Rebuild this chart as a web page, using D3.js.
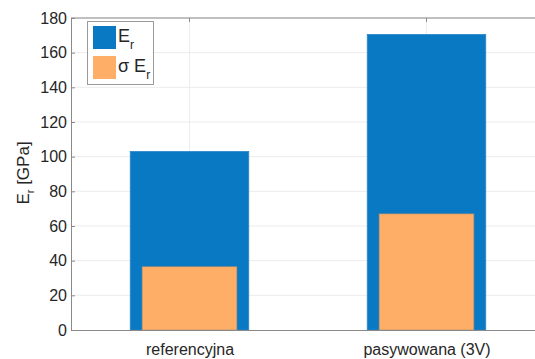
<!DOCTYPE html>
<html>
<head>
<meta charset="utf-8">
<script src="https://cdn.jsdelivr.net/npm/d3@7"></script>
<style>
  body { margin: 0; background: #fff; }
  svg { display: block; font-family: "Liberation Sans", Arial, sans-serif; }
</style>
</head>
<body>
<svg id="chart" width="535" height="359"></svg>
<script>
// Sample categories and measured reduced modulus
const categories = ["referencyjna", "pasywowana (3V)"];
const erValues = [103, 170.5];
const sigmaValues = [36.5, 67];
const yTicks = [0, 20, 40, 60, 80, 100, 120, 140, 160, 180];

const svg = d3.select("#chart");
const margin = { left: 71, top: 18 };
const plotW = 474, plotH = 312;

const x = d3.scaleLinear().domain([0.5, 2.5]).range([margin.left, margin.left + plotW]);
const y = d3.scaleLinear().domain([0, 180]).range([margin.top + plotH, margin.top]);

const g = svg.append("g");

// grid
g.selectAll(".hgrid").data(yTicks.slice(1)).enter().append("line")
  .attr("x1", margin.left).attr("x2", margin.left + plotW)
  .attr("y1", d => y(d)).attr("y2", d => y(d))
  .attr("stroke", "#ececec").attr("stroke-width", 1);
g.selectAll(".vgrid").data(categories).enter().append("line")
  .attr("x1", (d, i) => x(i + 1)).attr("x2", (d, i) => x(i + 1))
  .attr("y1", margin.top).attr("y2", margin.top + plotH)
  .attr("stroke", "#ececec").attr("stroke-width", 1);

// bars: E_r (wide) and sigma E_r (narrow)
const wide = 0.5, narrow = 0.4;
g.selectAll(".er").data(erValues).enter().append("rect")
  .attr("x", (d, i) => x(i + 1 - wide / 2))
  .attr("width", (d, i) => x(i + 1 + wide / 2) - x(i + 1 - wide / 2))
  .attr("y", d => y(d)).attr("height", d => y(0) - y(d))
  .attr("fill", "#0a79c3").attr("stroke", "#2a86c8").attr("stroke-width", 0.8);
g.selectAll(".sig").data(sigmaValues).enter().append("rect")
  .attr("x", (d, i) => x(i + 1 - narrow / 2))
  .attr("width", (d, i) => x(i + 1 + narrow / 2) - x(i + 1 - narrow / 2))
  .attr("y", d => y(d)).attr("height", d => y(0) - y(d))
  .attr("fill", "#feae66").attr("stroke", "#9a8a78").attr("stroke-width", 0.6);

// axes
const axisColor = "#8a8a8a";
const yAxis = d3.axisLeft(y).tickValues(yTicks).tickSize(-4).tickPadding(4);
const yg = svg.append("g").attr("transform", `translate(${margin.left},0)`).call(yAxis);
yg.select(".domain").attr("stroke", axisColor);
yg.selectAll(".tick line").attr("stroke", axisColor);
yg.selectAll(".tick text").attr("fill", "#262626").attr("font-size", "16px")
  .attr("font-family", "Liberation Sans, Arial, sans-serif");

const xAxis = d3.axisBottom(x).tickValues([1, 2]).tickFormat((d) => categories[d - 1]).tickSize(0).tickPadding(14);
const xg = svg.append("g").attr("transform", `translate(0,${margin.top + plotH})`).call(xAxis);
xg.select(".domain").attr("stroke", axisColor);
xg.selectAll(".tick text").attr("fill", "#262626").attr("font-size", "16px")
  .attr("font-family", "Liberation Sans, Arial, sans-serif");

// top border with inward ticks
svg.append("line").attr("x1", margin.left).attr("x2", margin.left + plotW)
  .attr("y1", margin.top).attr("y2", margin.top).attr("stroke", axisColor);
svg.selectAll(".ttick").data([1, 2]).enter().append("line")
  .attr("x1", d => x(d)).attr("x2", d => x(d))
  .attr("y1", margin.top).attr("y2", margin.top + 4).attr("stroke", axisColor);

// y axis label
const yl = svg.append("text")
  .attr("transform", `translate(29, ${margin.top + plotH / 2 - 1}) rotate(-90)`)
  .attr("text-anchor", "middle").attr("font-size", "17px").attr("fill", "#262626");
yl.append("tspan").text("E");
yl.append("tspan").attr("font-size", "11px").attr("dy", 5).text("r");
yl.append("tspan").attr("dy", -5).text(" [GPa]");

// legend
const lg = svg.append("g");
lg.append("rect").attr("x", 87.5).attr("y", 21.5).attr("width", 66).attr("height", 63)
  .attr("fill", "#fff").attr("stroke", "#9a9a9a").attr("stroke-width", 1);
const items = [
  { label: "E", pre: "", color: "#0a79c3", yy: 26 },
  { label: "E", pre: "σ ", color: "#feae66", yy: 56 }
];
items.forEach(it => {
  lg.append("rect").attr("x", 93).attr("y", it.yy).attr("width", 23).attr("height", 23).attr("fill", it.color);
  const t = lg.append("text").attr("x", 118).attr("y", it.yy + 16).attr("font-size", "18px").attr("fill", "#262626");
  t.append("tspan").text(it.pre + it.label);
  t.append("tspan").attr("font-size", "12px").attr("dy", 7).text("r");
});
</script>
</body>
</html>
